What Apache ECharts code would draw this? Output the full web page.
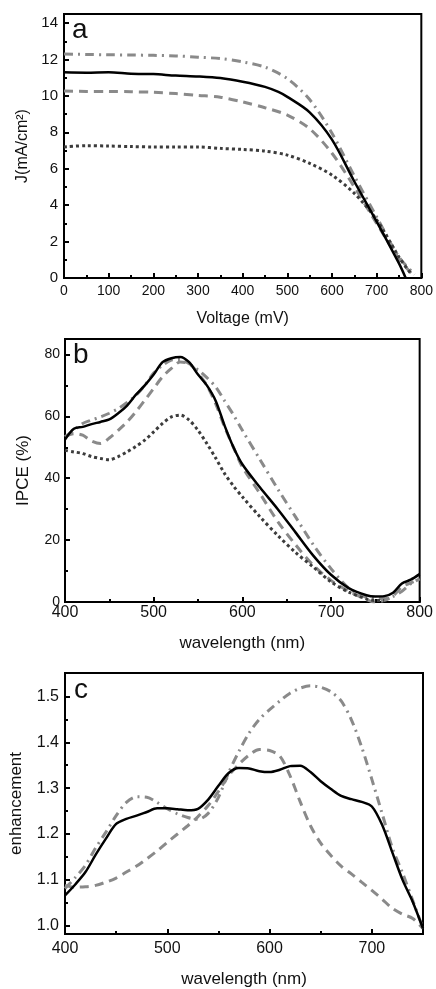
<!DOCTYPE html>
<html><head><meta charset="utf-8">
<script src="https://cdn.jsdelivr.net/npm/echarts@6/dist/echarts.min.js"></script>
<style>html,body{margin:0;padding:0;background:#fff}#c{width:436px;height:989px}</style>
</head><body><div id="c"></div>
<script>
// Panel a: J-V curves
const aSolidV   = [0,50,100,150,200,250,300,350,400,450,480,500,550,600,650,700,750,765];
const aSolidJ   = [11.3,11.28,11.3,11.22,11.2,11.12,11.07,10.98,10.78,10.5,10.22,9.95,9.1,7.6,5.3,3.1,0.8,0];
const aDashDotV = [0,50,100,150,200,250,300,350,400,450,500,550,600,650,700,750,785];
const aDashDotJ = [12.3,12.28,12.26,12.25,12.23,12.2,12.13,12.05,11.87,11.58,10.95,9.8,7.95,5.6,3.35,1.15,0.2];
const aDashV    = [0,50,100,150,200,250,300,350,400,450,500,550,600,650,700,750,780];
const aDashJ    = [10.27,10.25,10.25,10.23,10.2,10.13,10.03,9.93,9.67,9.35,8.95,8.2,6.85,5.0,3.0,1.05,0.2];
const aDotV     = [0,50,100,150,200,250,300,350,400,450,500,550,600,650,700,750,775];
const aDotJ     = [7.2,7.27,7.25,7.22,7.2,7.2,7.2,7.12,7.06,6.97,6.75,6.3,5.65,4.65,3.2,1.15,0.3];
const aXTicks = [0,100,200,300,400,500,600,700,800];
const aXMinor = [50,150,250,350,450,550,650,750];
const aYTicks = [0,2,4,6,8,10,12,14];
const aYMinor = [1,3,5,7,9,11,13];

// Panel b: IPCE
const bX       = [400,410,420,430,440,450,460,470,480,490,500,510,520,530,540,550,560,570,580,590,600,620,640,660,680,700,720,740,750,760,770,780,790,800];
const bSolid   = [52.5,56,56.6,57.5,58.2,59,61,63.5,67,70,73.5,77.5,78.8,79.2,77.5,73.5,70,65,57,50,44.5,37,30,22.5,15,8.8,4.5,2.2,1.8,1.9,3,6,7.2,9];
const bDashDot = [53.4,55.5,57.7,58.8,59.8,61,62.5,64.5,66.8,70,74,76.5,78.2,78.4,77,75,72.5,69.5,65,60.5,55.5,46,36.5,27.5,18.5,10.8,4.5,1.5,1.1,1.2,1.8,3.5,5.9,7.5];
const bDash    = [53.4,54.4,53.9,52,51.2,53,55.5,58.2,61.5,65.2,69,72.8,75.5,77.6,77,74,70,64,56.6,50,43.7,35,26,18.5,11.9,7,3.5,0.8,0,0.5,2,4.9,6.2,7.5];
const bDotX    = [400,410,420,430,440,450,460,470,480,490,500,510,520,530,540,550,560,570,580,590,600,620,640,660,680,700,720,740,750,760];
const bDot     = [49,48.5,48,47,46.4,46,47,48.5,50.3,52.3,55,57.7,59.8,60.4,58.8,55.5,51.2,46.5,41.5,37.5,34,27.5,21.5,16,11.3,6.5,3.2,1,0.5,0.5];
const bXTicks = [400,500,600,700,800];
const bXMinor = [450,550,650,750];
const bYTicks = [0,20,40,60,80];
const bYMinor = [10,30,50,70];

// Panel c: enhancement
const cX       = [400,410,420,430,440,450,460,470,480,490,500,510,520,530,540,550,560,570,580,590,600,610,620,630,640,650,660,670,680,690,700,710,720,730,740,750];
const cSolid   = [1.066,1.09,1.117,1.155,1.19,1.222,1.233,1.24,1.248,1.256,1.256,1.254,1.252,1.255,1.275,1.305,1.333,1.344,1.343,1.337,1.335,1.34,1.348,1.349,1.335,1.315,1.298,1.283,1.276,1.27,1.26,1.22,1.16,1.1,1.052,0.994];
const cDashDot = [1.081,1.105,1.132,1.17,1.204,1.24,1.269,1.281,1.28,1.269,1.255,1.244,1.236,1.232,1.245,1.28,1.334,1.38,1.42,1.45,1.471,1.49,1.507,1.518,1.523,1.52,1.51,1.49,1.449,1.39,1.319,1.245,1.17,1.115,1.055,0.994];
const cDash    = [1.088,1.084,1.085,1.088,1.095,1.104,1.117,1.13,1.146,1.163,1.182,1.2,1.218,1.238,1.262,1.293,1.327,1.352,1.372,1.384,1.382,1.37,1.327,1.27,1.218,1.18,1.153,1.13,1.113,1.095,1.077,1.058,1.038,1.025,1.016,0.994];
const cXTicks = [400,500,600,700];
const cXMinor = [450,550,650];
const cYTicks = [1.0,1.1,1.2,1.3,1.4,1.5];
const cYMinor = [1.05,1.15,1.25,1.35,1.45];

const FONT = "'Liberation Sans', Arial, sans-serif";
const zip = (xs, ys) => xs.map((x, i) => [x, ys[i]]);

function mainAxis(gi, min, max, ticks, fs, name, nameFs, nameGap, labelMargin, isY, fmt) {
  return {
    type: 'value', gridIndex: gi, min, max,
    position: isY ? 'left' : 'bottom',
    name, nameLocation: 'middle', nameGap,
    nameTextStyle: { fontFamily: FONT, fontSize: nameFs, color: '#111' },
    axisLine: { show: true, lineStyle: { color: '#000', width: 2 } },
    axisTick: { show: true, inside: true, length: 5, customValues: ticks, lineStyle: { color: '#000', width: 2 } },
    axisLabel: { show: true, customValues: ticks, margin: labelMargin, fontFamily: FONT, fontSize: fs, color: '#111',
      formatter: fmt || (v => String(v)) },
    splitLine: { show: false }, minorTick: { show: false }
  };
}
function minorAxis(gi, min, max, ticks, isY) {
  return {
    type: 'value', gridIndex: gi, min, max,
    position: isY ? 'left' : 'bottom',
    axisLine: { show: false },
    axisTick: { show: true, inside: true, length: 3, customValues: ticks, lineStyle: { color: '#000', width: 2 } },
    axisLabel: { show: false }, splitLine: { show: false }
  };
}
function line(xi, yi, data, color, width, type) {
  return {
    type: 'line', xAxisIndex: xi, yAxisIndex: yi, data, smooth: 0.3, symbol: 'none',
    lineStyle: { color, width, type }, z: 3
  };
}

const GRAY = '#8a8a8a', DARK = '#3c3c3c';
const DASHDOT = [9, 5, 2, 5], DASH = [9, 6], DOT = [3, 3];

const option = {
  animation: false,
  backgroundColor: '#fff',
  grid: [
    { left: 64, top: 14, width: 358, height: 264, show: true, borderColor: '#000', borderWidth: 2, backgroundColor: 'transparent' },
    { left: 65, top: 339, width: 358, height: 263, show: true, borderColor: '#000', borderWidth: 2, backgroundColor: 'transparent' },
    { left: 64, top: 673, width: 359, height: 263, show: true, borderColor: '#000', borderWidth: 2, backgroundColor: 'transparent' }
  ],
  xAxis: [
    mainAxis(0, 0, 800, aXTicks, 14, 'Voltage (mV)', 16, 33, 6, false),
    minorAxis(0, 0, 800, aXMinor, false),
    mainAxis(1, 400, 800, bXTicks, 16, 'wavelength (nm)', 17, 33, 3, false),
    minorAxis(1, 400, 800, bXMinor, false),
    mainAxis(2, 400, 750, cXTicks, 16, 'wavelength (nm)', 17, 37, 7, false),
    minorAxis(2, 400, 750, cXMinor, false)
  ],
  yAxis: [
    mainAxis(0, 0, 14.5, aYTicks, 15, 'J(mA/cm²)', 16, 24, 6, true),
    minorAxis(0, 0, 14.5, aYMinor, true),
    mainAxis(1, 0, 85, bYTicks, 14, 'IPCE (%)', 17, 33, 5, true),
    minorAxis(1, 0, 85, bYMinor, true),
    mainAxis(2, 0.982, 1.551, cYTicks, 16, 'enhancement', 17, 40, 6, true, v => v.toFixed(1)),
    minorAxis(2, 0.982, 1.551, cYMinor, true)
  ],
  graphic: [
    { type: 'text', left: 72, top: 16, style: { text: 'a', font: "28px 'Liberation Sans', Arial", fill: '#111' } },
    { type: 'text', left: 73, top: 341, style: { text: 'b', font: "28px 'Liberation Sans', Arial", fill: '#111' } },
    { type: 'text', left: 74, top: 676, style: { text: 'c', font: "28px 'Liberation Sans', Arial", fill: '#111' } }
  ],
  series: [
    line(0, 0, zip(aDashDotV, aDashDotJ), GRAY, 3, DASHDOT),
    line(0, 0, zip(aDashV, aDashJ), GRAY, 3, DASH),
    line(0, 0, zip(aDotV, aDotJ), DARK, 3, DOT),
    line(0, 0, zip(aSolidV, aSolidJ), '#000', 2.5, 'solid'),
    line(2, 2, zip(bX, bDashDot), GRAY, 3, DASHDOT),
    line(2, 2, zip(bX, bDash), GRAY, 3, DASH),
    line(2, 2, zip(bDotX, bDot), DARK, 3, DOT),
    line(2, 2, zip(bX, bSolid), '#000', 2.5, 'solid'),
    line(4, 4, zip(cX, cDashDot), GRAY, 3, DASHDOT),
    line(4, 4, zip(cX, cDash), GRAY, 3, DASH),
    line(4, 4, zip(cX, cSolid), '#000', 2.5, 'solid')
  ]
};
const chart = echarts.init(document.getElementById('c'), null, { renderer: 'canvas' });
chart.setOption(option);
</script>
</body></html>
